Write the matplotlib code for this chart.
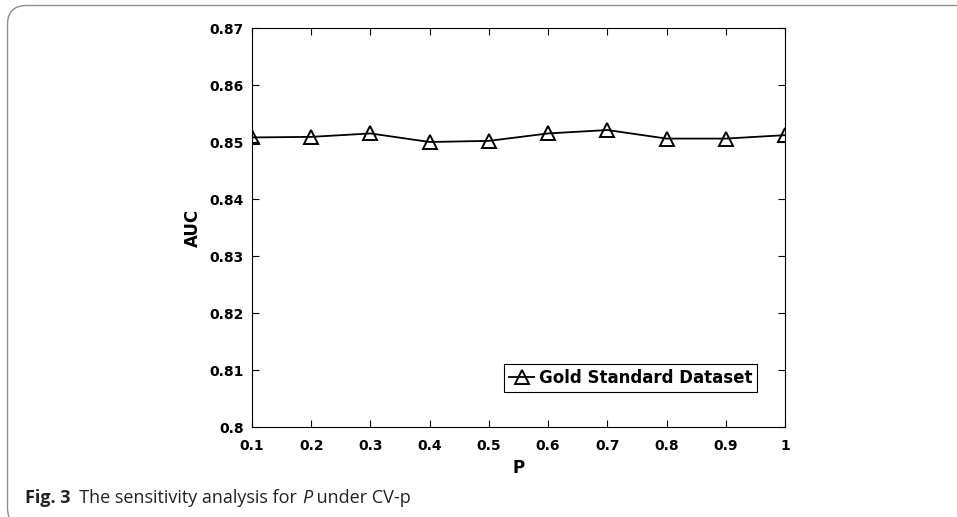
import matplotlib
matplotlib.use('Agg')
import matplotlib.pyplot as plt
from matplotlib.patches import FancyBboxPatch

p_values = [0.1, 0.2, 0.3, 0.4, 0.5, 0.6, 0.7, 0.8, 0.9, 1.0]
auc_values = [0.8508, 0.8509, 0.8515, 0.8500, 0.8502, 0.8515, 0.8521, 0.8506, 0.8506, 0.8512]
series_name = 'Gold Standard Dataset'
x_ticks = [0.1, 0.2, 0.3, 0.4, 0.5, 0.6, 0.7, 0.8, 0.9, 1]
x_tick_labels = ['0.1', '0.2', '0.3', '0.4', '0.5', '0.6', '0.7', '0.8', '0.9', '1']
y_ticks = [0.80, 0.81, 0.82, 0.83, 0.84, 0.85, 0.86, 0.87]
y_tick_labels = ['0.8', '0.81', '0.82', '0.83', '0.84', '0.85', '0.86', '0.87']

# caption pieces: (text, weight, style)
caption = [('Fig. 3', 'bold', 'normal'), ('  The sensitivity analysis for ', 'normal', 'normal'),
           ('P', 'normal', 'italic'), (' under CV-p', 'normal', 'normal')]

W, H = 957, 517
fig = plt.figure(figsize=(W / 100, H / 100), dpi=100)

# rounded panel frame
frame = FancyBboxPatch((7.5 / W, -10 / H), 1.2, (H - 5.5 + 10) / H,
                       boxstyle='round,pad=0,rounding_size=0.02',
                       transform=fig.transFigure, fill=False,
                       edgecolor='#8c8c8c', linewidth=1.0, mutation_aspect=W / H)
fig.patches.append(frame)

ax = fig.add_axes([252 / W, 1 - 427 / H, (785 - 252) / W, (427 - 28) / H])
ax.plot(p_values, auc_values, '-^', color='black', linewidth=1.3,
        markersize=10, markerfacecolor='none', markeredgewidth=1.4,
        label=series_name)

ax.set_xlim(0.1, 1)
ax.set_ylim(0.8, 0.87)
ax.set_xticks(x_ticks)
ax.set_xticklabels(x_tick_labels)
ax.set_yticks(y_ticks)
ax.set_yticklabels(y_tick_labels)
ax.tick_params(direction='in', length=5, width=0.8, top=True, right=True, labelsize=10)
ax.tick_params(axis='x', pad=9)
ax.tick_params(axis='y', pad=6)
for lbl in ax.get_xticklabels() + ax.get_yticklabels():
    lbl.set_fontweight('bold')
for s in ax.spines.values():
    s.set_linewidth(0.8)

ax.set_xlabel('P', fontsize=12, fontweight='bold', labelpad=4)
ax.set_ylabel('AUC', fontsize=12, fontweight='bold', labelpad=5)

leg = ax.legend(loc='lower right', bbox_to_anchor=(0.9475, 0.0877),
                borderaxespad=0, fancybox=False, framealpha=1,
                handlelength=1.5, handletextpad=0.25, borderpad=0.3,
                prop={'weight': 'bold', 'size': 12})
leg.get_frame().set_edgecolor('black')
leg.get_frame().set_linewidth(0.8)

# caption, placed piece by piece
renderer = fig.canvas.get_renderer()
x = 25 / W
y = 1 - 503 / H
for txt, wt, st in caption:
    t = fig.text(x, y, txt, fontsize=13, fontweight=wt, style=st,
                 family='Open Sans', va='baseline', ha='left', color='#222222')
    bb = t.get_window_extent(renderer)
    x += bb.width / W

fig.savefig('out.png', dpi=100)
